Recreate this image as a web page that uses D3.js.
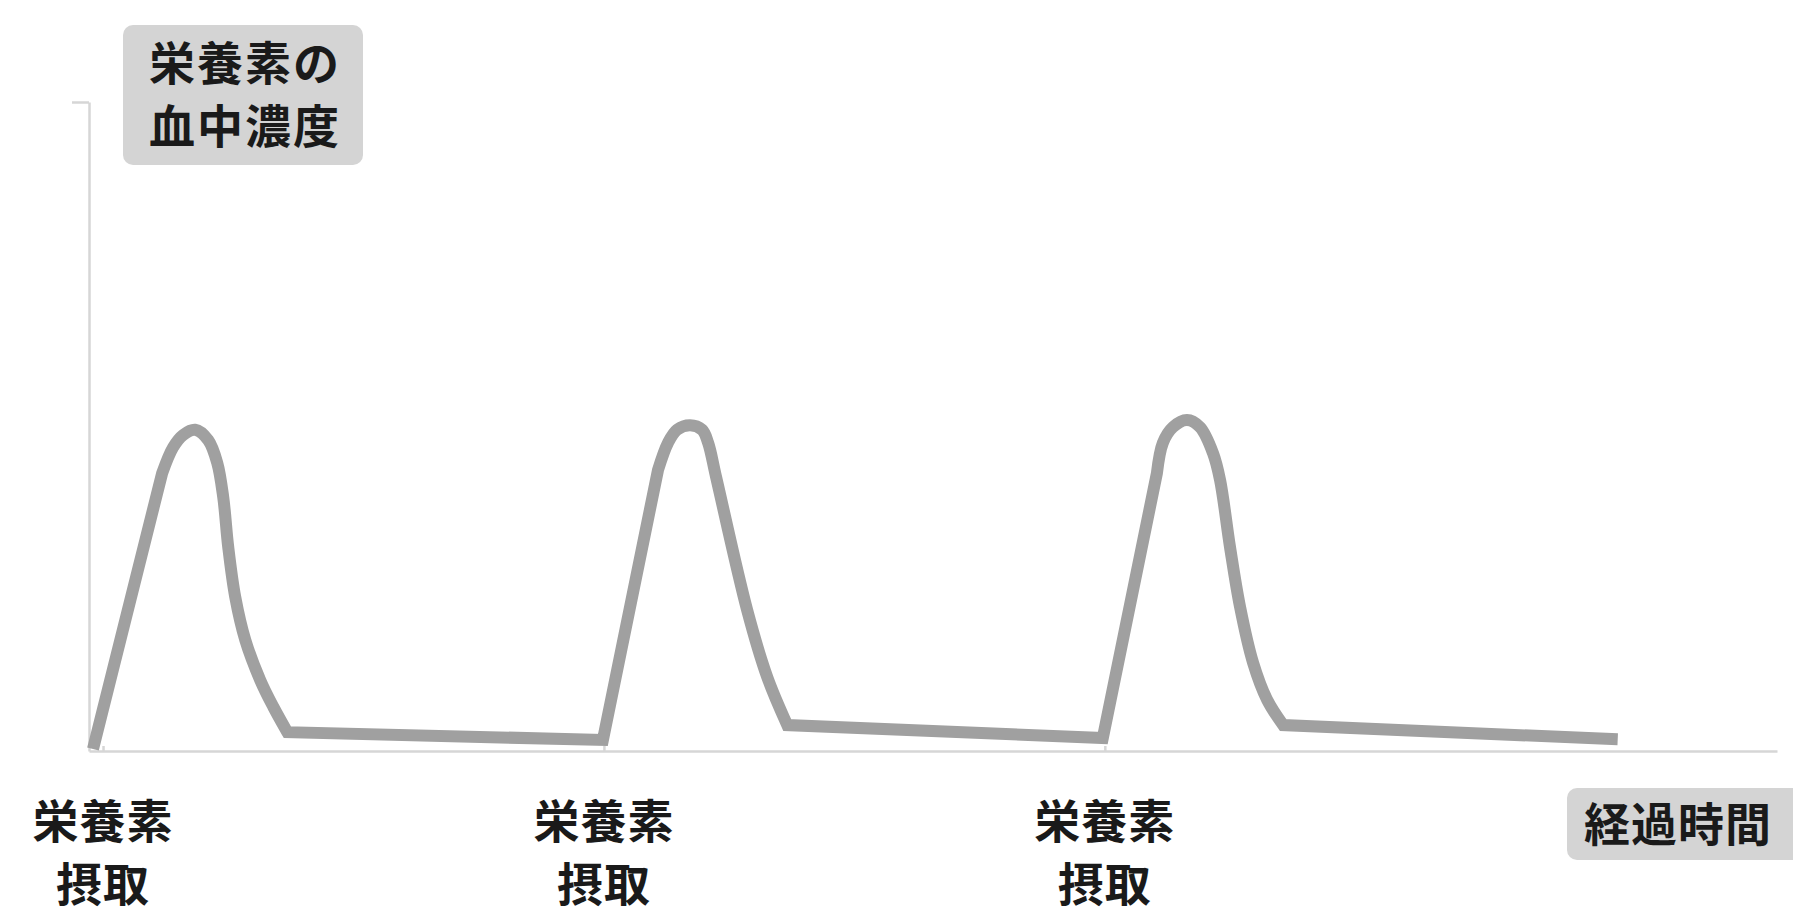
<!DOCTYPE html>
<html>
<head>
<meta charset="utf-8">
<script src="https://cdn.jsdelivr.net/npm/d3@7"></script>
<style>
    body { margin: 0; background: #fff; }
    svg { display: block; }
    text { font-family: "Noto Sans CJK JP", "Noto Sans CJK SC", sans-serif; font-weight: 700; fill: #1a1a1a; }
</style>
</head>
<body>
<div id="chart-area"></div>
<script>
// --- data (hours after first intake, blood level in arbitrary units) ---
const intakeHours = [0, 5, 10];
const intakeLabel = ["栄養素", "摂取"];
const yTitle = ["栄養素の", "血中濃度"];
const xTitle = "経過時間";

// one rise + peak + decay per intake
const doseHours = [
    [-0.10, 0.59, 0.70, 0.80, 0.92, 1.05, 1.14, 1.20, 1.25, 1.32, 1.42, 1.57, 1.70, 1.84],
    [4.99, 5.54, 5.64, 5.73, 5.86, 5.98, 6.04, 6.12, 6.43, 6.63, 6.83],
    [9.98, 10.52, 10.58, 10.68, 10.82, 10.95, 11.08, 11.15, 11.25, 11.35, 11.48, 11.62, 11.78]
];
const doseLevels = [
    [0.3, 42.8, 46.8, 48.7, 49.5, 47.9, 44.4, 39.1, 31.4, 23.7, 17.1, 10.9, 6.8, 2.9],
    [1.7, 43.3, 47.5, 49.5, 50.2, 49.5, 47.5, 42.2, 21.7, 11.4, 4.0],
    [2.0, 42.8, 47.5, 49.9, 51.0, 49.9, 45.9, 41.8, 31.4, 22.2, 13.6, 7.9, 4.0]
];
// where the last slow decline ends
const tailHour = 15.12, tailLevel = 1.8;

const WIDTH = 1793,
    HEIGHT = 914,
    AXIS_LEFT = 89,
    AXIS_RIGHT = 1777,
    AXIS_TOP = 102,
    AXIS_BOTTOM = 751,
    COLOR_AXIS = '#d6d6d6',
    COLOR_LINE = '#a0a0a0',
    COLOR_BOX = '#d4d4d4',
    LINE_WIDTH = 12,
    FONT_SIZE = 46;

const svg = d3.select("#chart-area")
    .append("svg")
    .attr("width", WIDTH)
    .attr("height", HEIGHT);

const x = d3.scaleLinear().domain([-0.14, 16.71]).range([AXIS_LEFT, AXIS_RIGHT]);
const y = d3.scaleLinear().domain([0, 100]).range([AXIS_BOTTOM, AXIS_TOP]);

// axes
const gx = svg.append("g")
    .attr("transform", `translate(0,${AXIS_BOTTOM})`)
    .call(d3.axisBottom(x).tickValues(intakeHours).tickSizeInner(-5).tickSizeOuter(0).tickFormat(""));
const gy = svg.append("g")
    .attr("transform", `translate(${AXIS_LEFT},0)`)
    .call(d3.axisLeft(y).tickValues([100]).tickSizeInner(17).tickSizeOuter(0).tickFormat(""));
[gx, gy].forEach(g => {
    g.selectAll("path, line").attr("stroke", COLOR_AXIS).attr("stroke-width", 2.5);
});

// curve: straight rise, smooth peak and fall, then straight slow decline
const smooth = d3.line().x(d => x(d[0])).y(d => y(d[1])).curve(d3.curveCatmullRom.alpha(0.5));
const straight = d3.line().x(d => x(d[0])).y(d => y(d[1]));
const noMove = s => s.replace(/^M[^A-Za-z]*/, "");

let pathStr = "";
doseHours.forEach((hours, i) => {
    const pts = hours.map((h, j) => [h, doseLevels[i][j]]);
    const last = pts[pts.length - 1];
    const next = i < doseHours.length - 1 ? [doseHours[i + 1][0], doseLevels[i + 1][0]] : [tailHour, tailLevel];
    const rise = straight(pts.slice(0, 2));
    pathStr += (i === 0 ? rise : noMove(rise)) + noMove(smooth(pts.slice(1))) + noMove(straight([last, next]));
});

svg.append("path")
    .attr("d", pathStr)
    .attr("fill", "none")
    .attr("stroke", COLOR_LINE)
    .attr("stroke-width", LINE_WIDTH)
    .attr("stroke-linejoin", "miter");

// y title box
svg.append("rect")
    .attr("x", 123).attr("y", 25)
    .attr("width", 240).attr("height", 140)
    .attr("rx", 10)
    .attr("fill", COLOR_BOX);
svg.append("g")
    .selectAll("text")
    .data(yTitle)
    .join("text")
    .attr("x", 245)
    .attr("y", (d, i) => 60 + i * 62.5)
    .attr("text-anchor", "middle")
    .attr("dominant-baseline", "central")
    .attr("font-size", FONT_SIZE)
    .attr("letter-spacing", 2)
    .text(d => d);

// intake labels under the axis
const lab = svg.append("g")
    .selectAll("g")
    .data(intakeHours)
    .join("g")
    .attr("transform", d => `translate(${x(d)},0)`);
lab.selectAll("text")
    .data(intakeLabel)
    .join("text")
    .attr("y", (d, i) => 817.5 + i * 63.5)
    .attr("text-anchor", "middle")
    .attr("dominant-baseline", "central")
    .attr("font-size", FONT_SIZE)
    .attr("letter-spacing", 1)
    .text(d => d);

// x title box
svg.append("rect")
    .attr("x", 1567).attr("y", 788)
    .attr("width", 236).attr("height", 72)
    .attr("rx", 10)
    .attr("fill", COLOR_BOX);
svg.append("text")
    .attr("x", 1678)
    .attr("y", 821)
    .attr("text-anchor", "middle")
    .attr("dominant-baseline", "central")
    .attr("font-size", FONT_SIZE)
    .attr("letter-spacing", 1)
    .text(xTitle);
</script>
</body>
</html>
